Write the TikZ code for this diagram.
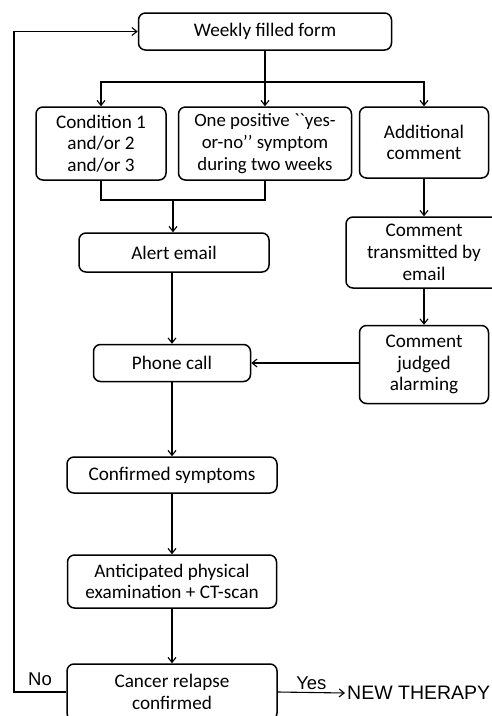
\documentclass[tikz,border=0pt]{standalone}
\usepackage{fontspec}
\newfontfamily\calfont{Carlito}
\newfontfamily\arialfont{Liberation Sans}
\usetikzlibrary{arrows.meta}

\def\txt{\calfont\fontsize{19.2}{21.7}\selectfont}
\tikzset{step box/.style={draw,rounded corners=7pt,line width=1.5pt,align=center,inner sep=0pt,font=\txt},
  flow/.style={line width=1.1pt,-{Straight Barb[length=5pt,width=8pt,line width=1.1pt]}},
  tag/.style={font=\arialfont\fontsize{18.5}{20}\selectfont,inner sep=2pt}}

\begin{document}
\begin{tikzpicture}[x=1pt,y=-1pt]
  \useasboundingbox (0,0) rectangle (492,716);
  % boxes
  \node[step box,minimum width=253pt,minimum height=37pt] (weekly) at (265,31.5) {Weekly filled form};
  \node[step box,minimum width=130pt,minimum height=73pt] (cond) at (101,143.5) {Condition 1\\and/or 2\\and/or 3};
  \node[step box,minimum width=173pt,minimum height=73pt,font=\calfont\fontsize{18.8}{21.7}\selectfont] (yesno) at (265,143.5) {One positive ``yes-\\or-no’’ symptom\\during two weeks};
  \node[step box,minimum width=129pt,minimum height=71pt] (comment) at (424,142.5) {Additional\\comment};
  \node[step box,minimum width=190pt,minimum height=39pt] (alert) at (174,252.5) {Alert email};
  \node[step box,minimum width=156pt,minimum height=71pt] (transm) at (424,252.5) {Comment\\transmitted by\\email};
  \node[step box,minimum width=129pt,minimum height=78pt] (judged) at (424,364.5) {Comment\\judged\\alarming};
  \node[step box,minimum width=157pt,minimum height=37pt] (phone) at (172,363) {Phone call};
  \node[step box,minimum width=210pt,minimum height=36pt] (symptoms) at (172,475) {Confirmed symptoms};
  \node[step box,minimum width=209pt,minimum height=53pt] (exam) at (172,581.5) {Anticipated physical\\examination + CT-scan};
  \node[step box,minimum width=210pt,minimum height=56pt] (relapse) at (172,692) {Cancer relapse\\confirmed};
  \node[tag,anchor=west,font=\arialfont\fontsize{19.5}{22}\selectfont] (therapy) at (345,693) {NEW THERAPY};
  \node[tag] (no) at (40,679) {No};

  \coordinate (split) at (265,82);
  \coordinate (join) at (173,200);
  \coordinate (loop) at (14,33);

  % arrows
  \draw[flow] (weekly) -- (yesno);
  \draw[flow] (split) -| (cond.north);
  \draw[flow] (split) -| (comment.north);
  \draw[line width=1.1pt] (cond.south) |- (join) -| (yesno.south);
  \draw[flow] (join) -- (join |- alert.north);
  \draw[flow] (comment) -- (transm);
  \draw[flow] (transm) -- (judged);
  \draw[flow] (alert.south -| phone) -- (phone);
  \draw[flow] (judged.west |- phone) -- (phone.east);
  \draw[flow] (phone) -- (symptoms);
  \draw[flow] (symptoms) -- (exam);
  \draw[flow] (exam) -- (relapse);
  \draw[flow] (relapse.east) -- node[tag,above=0pt]{Yes} (therapy.west);
  \draw[flow] (relapse.west) -- (relapse.west -| loop) |- (weekly.west);
\end{tikzpicture}
\end{document}
